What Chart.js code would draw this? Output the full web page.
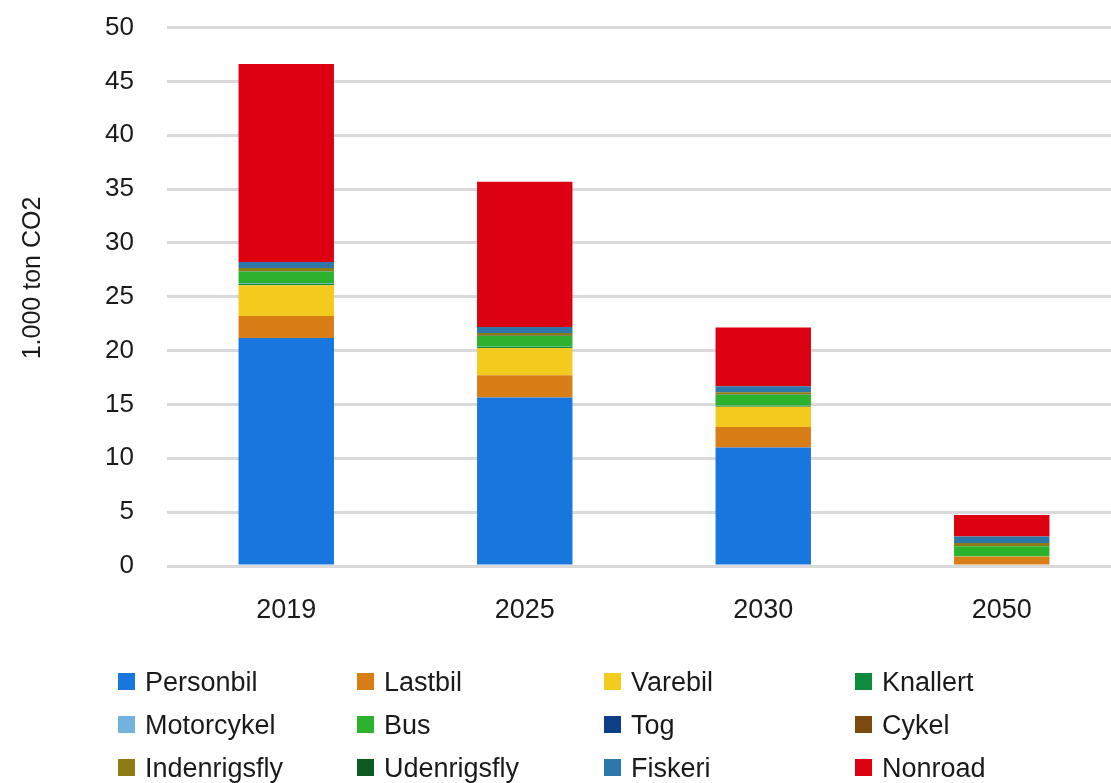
<!DOCTYPE html>
<html>
<head>
<meta charset="utf-8">
<script src="https://cdn.jsdelivr.net/npm/chart.js@4/dist/chart.umd.min.js"></script>
<style>
  html, body { margin: 0; padding: 0; background: #fff; overflow: hidden; width: 1111px; height: 783px; }
  #wrap { position: absolute; left: 0; top: -21px; width: 1121px; height: 661px; }
  #legend { position: absolute; left: 0; top: 0; width: 1111px; height: 783px; pointer-events: none;
    font-family: "Liberation Sans", Arial, sans-serif; font-size: 27px; color: #1a1a1a; }
  .li { position: absolute; white-space: nowrap; line-height: 30px; }
  .li span.box { display: inline-block; width: 17px; height: 17px; vertical-align: middle; margin-right: 10px; position: relative; top: -2px; }
</style>
</head>
<body>
<div id="wrap"><canvas id="c" width="1121" height="661"></canvas></div>
<div id="legend"></div>
<script>
const categories = ["2019", "2025", "2030", "2050"];
const seriesNames = ["Personbil","Lastbil","Varebil","Knallert","Motorcykel","Bus","Tog","Cykel","Indenrigsfly","Udenrigsfly","Fiskeri","Nonroad"];
const personbil    = [21.18, 15.65, 11.01, 0.0];
const lastbil      = [2.04, 2.07, 1.91, 0.86];
const varebil      = [2.85, 2.53, 1.86, 0.02];
const knallert     = [0.15, 0.10, 0.10, 0.02];
const motorcykel   = [0.05, 0.03, 0.03, 0.0];
const bus          = [1.08, 0.99, 0.99, 0.93];
const tog          = [0.02, 0.02, 0.02, 0.0];
const cykel        = [0.0, 0.0, 0.0, 0.0];
const indenrigsfly = [0.30, 0.25, 0.21, 0.30];
const udenrigsfly  = [0.0, 0.0, 0.0, 0.0];
const fiskeri      = [0.56, 0.56, 0.56, 0.60];
const nonroad      = [18.40, 13.48, 5.45, 2.00];
const yTicks = [0, 5, 10, 15, 20, 25, 30, 35, 40, 45, 50];

const seriesValues = [personbil, lastbil, varebil, knallert, motorcykel, bus, tog, cykel, indenrigsfly, udenrigsfly, fiskeri, nonroad];
const colors = ["#1877DE","#D97D17","#F3CA1E","#0E8B3C","#72B3DE","#2DB22D","#0C3F87","#7A4A0E","#8E7B13","#0B5A20","#2E78A9","#DC0011"];

const FONT = '"Liberation Sans", Arial, sans-serif';

const titlePlugin = {
  id: 'ytitle',
  afterDraw(chart) {
    const ctx = chart.ctx;
    ctx.save();
    ctx.translate(33, 299);
    ctx.rotate(-Math.PI / 2);
    ctx.font = '25px ' + FONT;
    ctx.fillStyle = '#1a1a1a';
    ctx.textAlign = 'center';
    ctx.textBaseline = 'middle';
    ctx.fillText('1.000 ton CO2', 0, 0);
    ctx.restore();
  }
};

new Chart(document.getElementById('c'), {
  type: 'bar',
  data: {
    labels: categories,
    datasets: seriesNames.map((n, i) => ({
      label: n,
      data: seriesValues[i],
      backgroundColor: colors[i],
      borderWidth: 0,
      barPercentage: 0.4,
      categoryPercentage: 1.0
    }))
  },
  options: {
    responsive: false,
    animation: false,
    devicePixelRatio: 1,
    layout: { padding: { top: 7, left: 0, right: 0, bottom: 0 } },
    plugins: { legend: { display: false }, tooltip: { enabled: false } },
    scales: {
      x: {
        stacked: true,
        grid: { display: false, drawTicks: false },
        border: { display: false },
        ticks: { color: '#1a1a1a', font: { family: FONT, size: 27 }, padding: 28 },
        afterFit(s) { s.height = 74; }
      },
      y: {
        stacked: true,
        min: 0, max: 50,
        afterBuildTicks(s) { s.ticks = yTicks.map(v => ({ value: v })); },
        grid: { color: '#d9d9d9', lineWidth: 3, drawTicks: false },
        border: { display: false },
        ticks: { color: '#1a1a1a', font: { family: FONT, size: 26 }, padding: 33 },
        afterFit(s) { s.width = 167; }
      }
    }
  },
  plugins: [titlePlugin]
});

// HTML legend in 4 columns x 3 rows
const legend = document.getElementById('legend');
const colX = [118, 357, 604, 855];
const rowY = [682, 725, 768];
seriesNames.forEach((n, i) => {
  const d = document.createElement('div');
  d.className = 'li';
  d.style.left = colX[i % 4] + 'px';
  d.style.top = (rowY[Math.floor(i / 4)] - 15) + 'px';
  d.innerHTML = '<span class="box" style="background:' + colors[i] + '"></span>' + n;
  legend.appendChild(d);
});
</script>
</body>
</html>
